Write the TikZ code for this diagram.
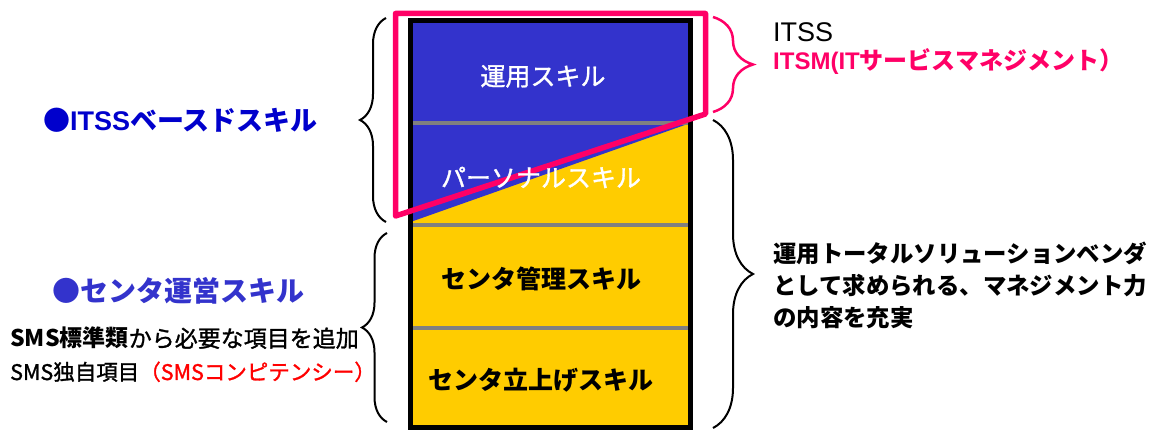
\documentclass[tikz,border=0pt]{standalone}
\usepackage{fontspec}
\setmainfont{Noto Sans CJK JP}
\newfontfamily\med[FakeBold=1.3]{Noto Sans CJK JP}
\newfontfamily\lat{Liberation Sans}
\usetikzlibrary{decorations.pathreplacing}
\definecolor{cblue}{HTML}{3333CC}
\definecolor{dblue}{HTML}{0000CC}
\definecolor{cyel}{HTML}{FFCC00}
\definecolor{cpink}{HTML}{FF0066}
\definecolor{cred}{HTML}{FF0000}
\definecolor{cgray}{HTML}{808080}
\begin{document}
\begin{tikzpicture}[x=1pt,y=-1pt,
  brc/.style={decorate,decoration={brace,amplitude=#1},line width=2pt},
  lbl/.style={anchor=base,inner sep=0pt,font=\fontsize{25}{30}\selectfont\med},
  lblb/.style={lbl,font=\fontsize{25}{30}\selectfont\bfseries},
  txt/.style={anchor=base west,inner sep=0pt},
  sep/.style={cgray,line width=3.5pt}]
\useasboundingbox (0,0) rectangle (1160,430);
% column
\coordinate (tl) at (410.5,21);
\coordinate (br) at (690.5,427.5);
\fill[cyel] (tl) rectangle (br);
\fill[cblue] (410.5,21) -- (690.5,21) -- (690.5,123) -- (410.5,222) -- cycle;
\draw[sep] (410.5,123) -- (690.5,123);
\draw[sep] (410.5,225) -- (690.5,225);
\draw[sep] (410.5,328) -- (690.5,328);
\draw[line width=5pt] (tl) rectangle (br);
% pink outline
\draw[cpink,line width=5.5pt,line join=round] (395.5,13.5) -- (705.5,13.5) -- (705.5,114) -- (395.5,216) -- cycle;
% column labels
\node[lbl,text=white] (c1) at (543,85.5) {運用スキル};
\node[lbl,text=white] (c2) at (541,187) {パーソナルスキル};
\node[lblb] (c3) at (541,288.5) {センタ管理スキル};
\node[lblb] (c4) at (541,390) {センタ立上げスキル};
% braces
\draw[brc=26] (386,222) -- (386,18);
\draw[brc=25] (387,422) -- (387,233);
\draw[brc=40,cpink,line width=2.5pt] (713,17) -- (713,112);
\draw[brc=40] (713,120) -- (713,428);
% left texts
\node[txt,text=dblue,font=\fontsize{27}{32}\selectfont\bfseries] (t1) at (43,131) {●{\lat ITSS}ベースドスキル};
\node[txt,text=cblue,font=\fontsize{28}{32}\selectfont\bfseries] (t2) at (52,302) {●センタ運営スキル};
\node[txt,font=\fontsize{23}{28}\selectfont] (t3) at (10,347) {{\bfseries SMS標準類}{\med から必要な項目を追加}};
\node[txt,font=\fontsize{21.5}{26}\selectfont\med] (t4) at (10,380) {SMS独自項目{\color{cred}（SMSコンピテンシー）}};
% right texts
\node[txt,font=\fontsize{27}{32}\selectfont\lat] (i1) at (773,42) {ITSS};
\node[txt,text=cpink,font=\fontsize{24}{28}\selectfont\bfseries] (i2) at (773,70) {{\lat ITSM(IT}サービスマネジメント）};
\node[txt,font=\fontsize{23.4}{28}\selectfont\bfseries] (r1) at (773,263) {運用トータルソリューションベンダ};
\node[txt,font=\fontsize{23.4}{28}\selectfont\bfseries] (r2) at (773,295) {として求められる、マネジメント力};
\node[txt,font=\fontsize{23.4}{28}\selectfont\bfseries] (r3) at (773,327) {の内容を充実};
\end{tikzpicture}
\end{document}
